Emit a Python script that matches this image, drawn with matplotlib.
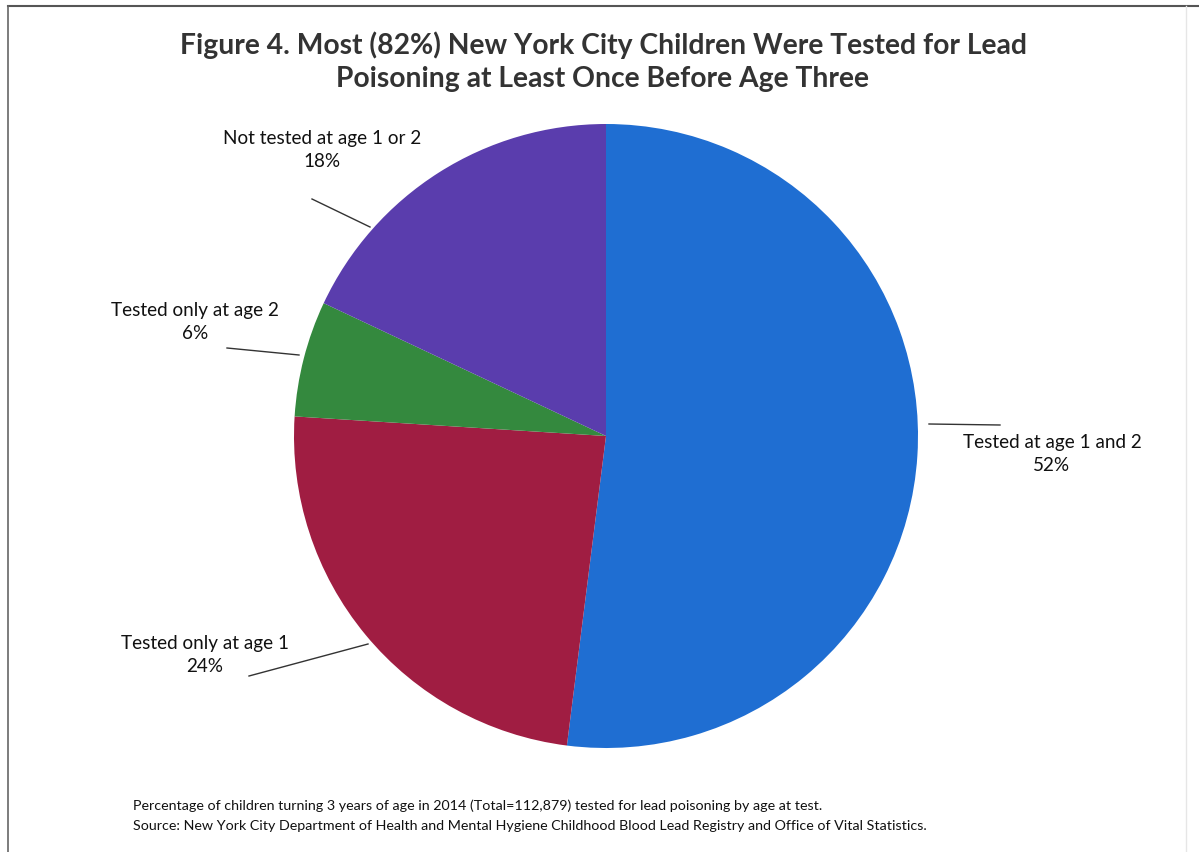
import matplotlib
matplotlib.use("Agg")
import matplotlib.pyplot as plt

categories = ["Tested at age 1 and 2", "Tested only at age 1", "Tested only at age 2", "Not tested at age 1 or 2"]
values = [52, 24, 6, 18]
colors = ["#1F6ED2", "#A01D42", "#34893E", "#5A3DAD"]

title = "Figure 4. Most (82%) New York City Children Were Tested for Lead\nPoisoning at Least Once Before Age Three"
footnote1 = "Percentage of children turning 3 years of age in 2014 (Total=112,879) tested for lead poisoning by age at test."
footnote2 = "Source: New York City Department of Health and Mental Hygiene Childhood Blood Lead Registry and Office of Vital Statistics."

W, H = 1199, 852
fig = plt.figure(figsize=(W / 100, H / 100), dpi=100)
ax = fig.add_axes([0, 0, 1, 1])

cx, cy, r = 606, 436, 312
ax.pie(values, colors=colors, startangle=-90, counterclock=True,
       center=(cx, cy), radius=r, frame=True,
       wedgeprops=dict(linewidth=0))
ax.set_xlim(0, W)
ax.set_ylim(H, 0)
ax.set_aspect("equal")
ax.axis("off")

font = "Lato"
ax.text(603, 62, title, ha="center", va="center", fontsize=20.3, fontweight="bold",
        family=font, color="#333333", linespacing=1.32)

labels = [
    (1052, 454, [(929, 424), (1000, 425)]),
    (205, 655, [(249, 676), (368, 644)]),
    (195, 322, [(227, 348), (299, 355)]),
    (322, 150, [(312, 199), (370, 227)]),
]
for (tx, ty, line), cat, v in zip(labels, categories, values):
    ax.text(tx, ty, f"{cat}\n{v}%", ha="center", va="center", fontsize=13.6,
            family=font, color="#111111", linespacing=1.42)
    ax.plot([line[0][0], line[1][0]], [line[0][1], line[1][1]], color="#333333", lw=1)

ax.text(133, 806, footnote1, ha="left", va="center", fontsize=10.3, family=font, color="#111111")
ax.text(133, 826, footnote2, ha="left", va="center", fontsize=10.3, family=font, color="#111111")

# scan border
ax.plot([8, W], [6, 6], color="#555555", lw=1.5)
ax.plot([8, 8], [6, H], color="#666666", lw=1.2)
ax.plot([1186, 1186], [6, H], color="#e6e6e6", lw=1)

fig.savefig("out.png", dpi=100)
